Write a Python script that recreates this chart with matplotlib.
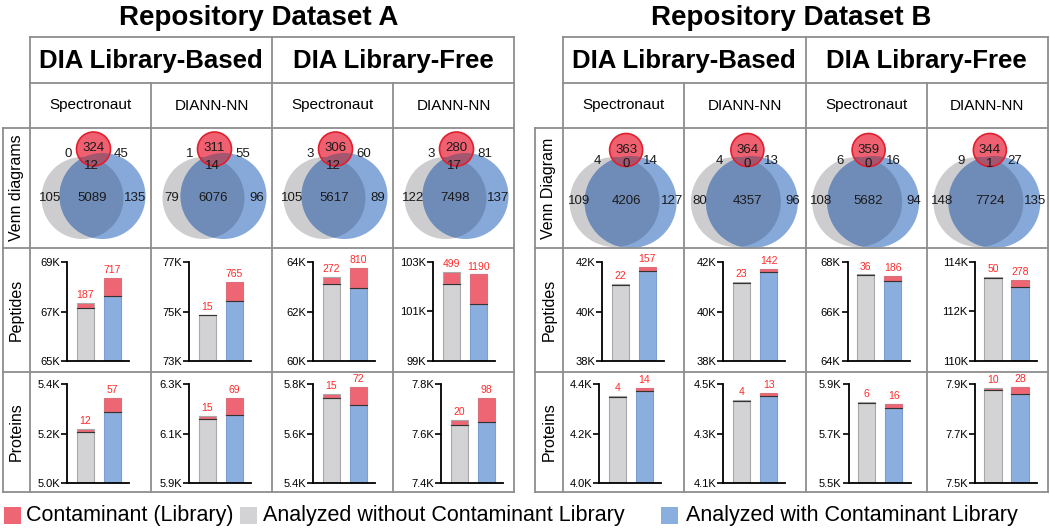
import matplotlib
matplotlib.use('Agg')
import matplotlib.pyplot as plt
from matplotlib.patches import Circle, Rectangle

plt.rcParams['font.family'] = ['Liberation Sans', 'DejaVu Sans']

# ---- data ----
titles = ['Repository Dataset A', 'Repository Dataset B']
workflows = ['DIA Library-Based', 'DIA Library-Free']
tools = ['Spectronaut', 'DIANN-NN', 'Spectronaut', 'DIANN-NN']
rows_A = ['Venn diagrams', 'Peptides', 'Proteins']
rows_B = ['Venn Diagram', 'Peptides', 'Proteins']
legend_labels = ['Contaminant (Library)', 'Analyzed without Contaminant Library',
                 'Analyzed with Contaminant Library']

# venn regions: red only, red&gray, red&blue, all three, gray only, gray&blue, blue only
venn_A = [[324, 0, 45, 12, 105, 5089, 135],
          [311, 1, 55, 14, 79, 6076, 96],
          [306, 3, 60, 12, 105, 5617, 89],
          [280, 3, 81, 17, 122, 7498, 137]]
venn_B = [[363, 4, 14, 0, 109, 4206, 127],
          [364, 4, 13, 0, 80, 4357, 96],
          [359, 6, 16, 0, 108, 5682, 94],
          [344, 9, 27, 1, 148, 7724, 135]]

pep_gray_A = [67340, 74860, 63400, 102600]
pep_blue_A = [68350, 76190, 63750, 102500]
pep_cont_gray_A = [187, 15, 272, 499]
pep_cont_blue_A = [717, 765, 810, 1190]
pro_gray_A = [5220, 6172, 5760, 7656]
pro_blue_A = [5344, 6244, 5788, 7744]
pro_cont_gray_A = [12, 15, 15, 20]
pro_cont_blue_A = [57, 69, 72, 98]

pep_gray_B = [41110, 41190, 67500, 113400]
pep_blue_B = [41800, 41720, 67430, 113280]
pep_cont_gray_B = [22, 23, 36, 50]
pep_cont_blue_B = [157, 142, 186, 278]
pro_gray_B = [4352, 4436, 5828, 7884]
pro_blue_B = [4384, 4464, 5820, 7888]
pro_cont_gray_B = [4, 4, 6, 10]
pro_cont_blue_B = [14, 13, 16, 28]

pep_ylim_A = [(65000, 69000), (73000, 77000), (60000, 64000), (99000, 103000)]
pro_ylim_A = [(5000, 5400), (5900, 6300), (5400, 5800), (7400, 7800)]
pep_ylim_B = [(38000, 42000), (38000, 42000), (64000, 68000), (110000, 114000)]
pro_ylim_B = [(4000, 4400), (4100, 4500), (5500, 5900), (7500, 7900)]

# ---- style ----
W, H = 1050, 532
LINE = '#8e8e8e'
GRAY = '#d3d3d5'
BLUE = '#8aaedd'
RED = '#ee6674'
LABEL_RED = '#ff2a2a'
V_GRAY = '#cdcdcf'
V_BLUE = '#86a9d9'
V_OVER = '#6f8cb8'
V_RED = '#ef6170'
V_RED_DARK = '#a4566f'

fig = plt.figure(figsize=(W / 100, H / 100), dpi=100)
bg = fig.add_axes([0, 0, 1, 1])
bg.set_xlim(0, W)
bg.set_ylim(H, 0)
bg.axis('off')

Y_TOP, Y_H1, Y_H2, Y_VENN, Y_PEP, Y_PRO = 37, 83, 128, 248, 372, 492

panels = [
    dict(lab=3, x0=30, x1=514, rows=rows_A, venn=venn_A,
         pep=(pep_gray_A, pep_blue_A, pep_cont_gray_A, pep_cont_blue_A, pep_ylim_A),
         pro=(pro_gray_A, pro_blue_A, pro_cont_gray_A, pro_cont_blue_A, pro_ylim_A),
         pep_off=[37, 38, 41, 40], pro_off=[37, 38, 41, 48],
         g=(-8, 198, 41), b=(12, 196, 43), r=(3, 149, 17),
         txt=[(3, 148), (-22, 154), (31, 154), (1, 166), (-40, 198), (2, 198), (45, 198)]),
    dict(lab=535, x0=563, x1=1048, rows=rows_B, venn=venn_B,
         pep=(pep_gray_B, pep_blue_B, pep_cont_gray_B, pep_cont_blue_B, pep_ylim_B),
         pro=(pro_gray_B, pro_blue_B, pro_cont_gray_B, pro_cont_blue_B, pro_ylim_B),
         pep_off=[39, 39, 42, 48], pro_off=[36, 39, 43, 48],
         g=(-9, 202, 45), b=(7, 202, 46), r=(2.5, 150, 16.5),
         txt=[(2.5, 150), (-26, 161), (27, 161), (2.5, 164), (-45, 201), (2.5, 201), (48, 201)]),
]


def hline(y, xa, xb):
    bg.plot([xa, xb], [y, y], color=LINE, lw=1.3, solid_capstyle='projecting')


def vline(x, ya, yb):
    bg.plot([x, x], [ya, yb], color=LINE, lw=1.3, solid_capstyle='projecting')


def draw_bars(left, top, bottom, totals, conts, ylim, fmt):
    ax = fig.add_axes([left / W, 1 - bottom / H, 62 / W, (bottom - top) / H])
    lo, hi = ylim
    base = [t - c for t, c in zip(totals, conts)]
    ax.bar([0, 1], [b - lo for b in base], bottom=lo, width=0.64,
           color=[GRAY, BLUE], edgecolor=['#a8a8a8', '#7d9fcf'], lw=0.8)
    ax.bar([0, 1], conts, bottom=base, width=0.64, color=RED,
           edgecolor=['#a8a8a8', '#d9707c'], lw=0.8)
    for xi, b in zip([0, 1], base):
        ax.plot([xi - 0.32, xi + 0.32], [b, b], color='#333333', lw=0.8)
    for xi, t, c in zip([0, 1], totals, conts):
        ax.annotate(str(c), (xi, t), xytext=(0, 2), textcoords='offset points',
                    ha='center', va='bottom', color=LABEL_RED, fontsize=7.5,
                    annotation_clip=False)
    ax.set_xlim(-0.68, 1.62)
    ax.set_ylim(lo, hi)
    ax.set_yticks([lo, (lo + hi) / 2, hi])
    ax.set_yticklabels([fmt.format(v / 1000) for v in [lo, (lo + hi) / 2, hi]])
    ax.set_xticks([])
    for s in ['top', 'right']:
        ax.spines[s].set_visible(False)
    for s in ['left', 'bottom']:
        ax.spines[s].set_linewidth(1.3)
    ax.tick_params(axis='y', length=4, width=1.2, labelsize=8, pad=1)
    ax.patch.set_visible(False)


for pi, p in enumerate(panels):
    lab, x0, x1 = p['lab'], p['x0'], p['x1']
    cw = (x1 - x0) / 4
    cols = [x0 + i * cw for i in range(5)]
    # grid
    hline(Y_TOP, x0, x1)
    hline(Y_H1, x0, x1)
    for y in [Y_H2, Y_VENN, Y_PEP, Y_PRO]:
        hline(y, lab, x1)
    vline(lab, Y_H2, Y_PRO)
    vline(x0, Y_TOP, Y_PRO)
    vline(cols[2], Y_TOP, Y_PRO)
    vline(x1, Y_TOP, Y_PRO)
    vline(cols[1], Y_H1, Y_PRO)
    vline(cols[3], Y_H1, Y_PRO)

    bg.text((lab + x1) / 2, 18, titles[pi], ha='center', va='center',
            fontsize=20, fontweight='bold')
    for wi, wf in enumerate(workflows):
        bg.text((cols[2 * wi] + cols[2 * wi + 2]) / 2, (Y_TOP + Y_H1) / 2 + 1, wf,
                ha='center', va='center', fontsize=18.5, fontweight='bold')
    for ci, tl in enumerate(tools):
        bg.text((cols[ci] + cols[ci + 1]) / 2, (Y_H1 + Y_H2) / 2, tl,
                ha='center', va='center', fontsize=11)
    for name, (ya, yb) in zip(p['rows'], [(Y_H2, Y_VENN), (Y_VENN, Y_PEP), (Y_PEP, Y_PRO)]):
        bg.text((lab + x0) / 2, (ya + yb) / 2, name, rotation=90,
                ha='center', va='center', fontsize=11.5)

    for ci in range(4):
        cx = (cols[ci] + cols[ci + 1]) / 2
        gx, gy, gr = p['g']
        bx, by, br = p['b']
        rx, ry, rr = p['r']
        g = Circle((cx + gx, gy), gr, fc=V_GRAY, ec='none')
        bg.add_patch(g)
        bg.add_patch(Circle((cx + bx, by), br, fc=V_BLUE, ec='none'))
        ov = Circle((cx + bx, by), br, fc=V_OVER, ec='none')
        bg.add_patch(ov)
        ov.set_clip_path(g)
        red = Circle((cx + rx, ry), rr, fc=V_RED, ec='none')
        bg.add_patch(red)
        for c in [(cx + gx, gy, gr), (cx + bx, by, br)]:
            d = Circle((c[0], c[1]), c[2], fc=V_RED_DARK, ec='none')
            bg.add_patch(d)
            d.set_clip_path(red)
        bg.add_patch(Circle((cx + rx, ry), rr, fc='none', ec='#e0202e', lw=1.2))
        for (dx, ty), val in zip(p['txt'], p['venn'][ci]):
            bg.text(cx + dx, ty, str(val), ha='center', va='center',
                    fontsize=9.5, color='#1a1a1a')

        tg, tb, cg, cb, yl = p['pep']
        draw_bars(cols[ci] + p['pep_off'][ci], 262, 361, [tg[ci], tb[ci]],
                  [cg[ci], cb[ci]], yl[ci], '{:.0f}K')
        tg, tb, cg, cb, yl = p['pro']
        draw_bars(cols[ci] + p['pro_off'][ci], 384, 483, [tg[ci], tb[ci]],
                  [cg[ci], cb[ci]], yl[ci], '{:.1f}K')

# legend
for (sx, tx), col, lbl in zip([(4, 26), (240, 263), (661, 686)], [RED, GRAY, BLUE], legend_labels):
    bg.add_patch(Rectangle((sx, 507), 17, 17, fc=col, ec='none'))
    bg.text(tx, 516, lbl, ha='left', va='center', fontsize=15.5)

fig.savefig('out.png', dpi=100)
